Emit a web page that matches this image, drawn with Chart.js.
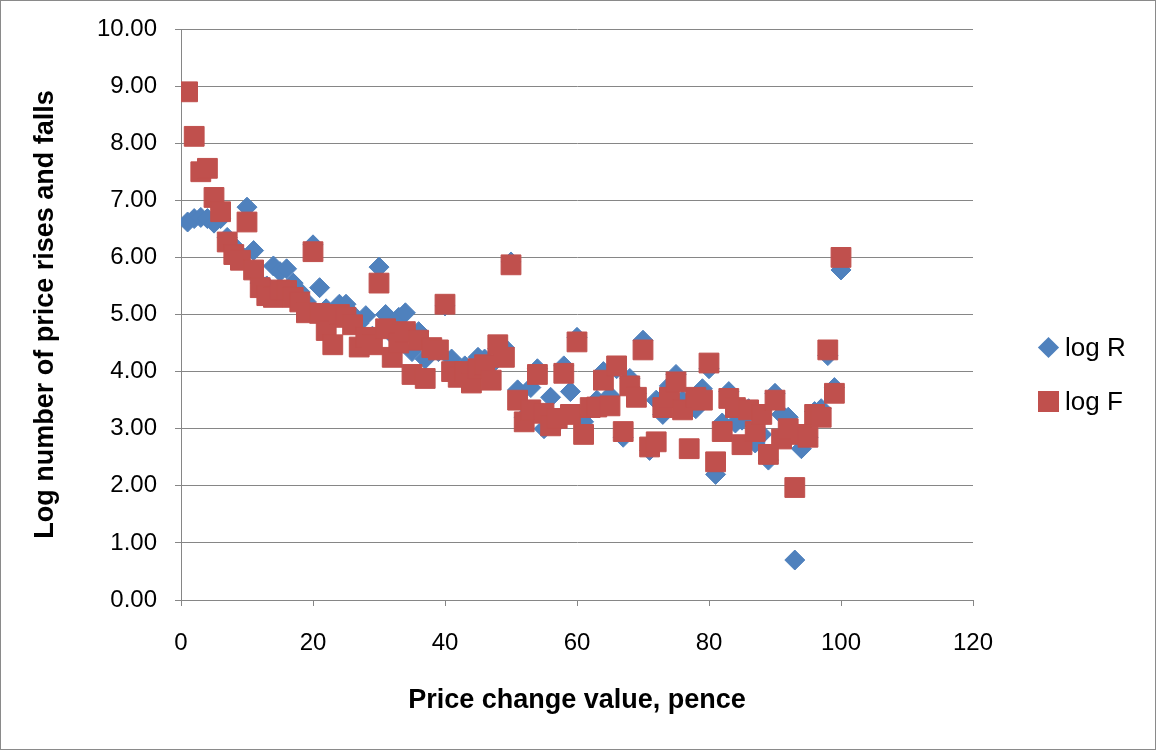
<!DOCTYPE html>
<html>
<head>
<meta charset="utf-8">
<title>Log number of price rises and falls</title>
<script src="https://cdn.jsdelivr.net/npm/chart.js@4.4.1/dist/chart.umd.min.js"></script>
<style>
  body { margin: 0; background: #fff; font-family: "Liberation Sans", Arial, sans-serif; }
  #wrap { position: absolute; left: 0; top: 0; width: 1154px; height: 748px; border: 1px solid #8a8a8a; }
  #chart { position: absolute; left: 0; top: 0; }
  .mark { position: absolute; }
  .diamond { left: 1039.5px; top: 339px; width: 15px; height: 15px; background: #4f81bd; transform: rotate(45deg); }
  .square { left: 1036.5px; top: 390px; width: 21px; height: 21px; background: #c0504d; }
  .label { position: absolute; left: 1064px; font-size: 26px; line-height: 30px; color: #000; white-space: nowrap; }
</style>
</head>
<body>
<div id="wrap">
  <canvas id="chart" width="1154" height="748"></canvas>
  <div class="mark diamond"></div>
  <div class="label" style="top: 331px;">log R</div>
  <div class="mark square"></div>
  <div class="label" style="top: 385px;">log F</div>
</div>
<script>
// price change, pence
const priceChange = [
  1, 2, 3, 4, 5, 6, 7, 8, 9, 10,
  11, 12, 13, 14, 15, 16, 17, 18, 19, 20,
  21, 22, 23, 24, 25, 26, 27, 28, 29, 30,
  31, 32, 33, 34, 35, 36, 37, 38, 39, 40,
  41, 42, 43, 44, 45, 46, 47, 48, 49, 50,
  51, 52, 53, 54, 55, 56, 57, 58, 59, 60,
  61, 62, 63, 64, 65, 66, 67, 68, 69, 70,
  71, 72, 73, 74, 75, 76, 77, 78, 79, 80,
  81, 82, 83, 84, 85, 86, 87, 88, 89, 90,
  91, 92, 93, 94, 95, 96, 97, 98, 99, 100
];

// log number of rises
const logR = [
  6.62, 6.68, 6.70, 6.68, 6.60, 6.68, 6.35, 6.20, 6.05, 6.88,
  6.12, 5.55, 5.50, 5.85, 5.75, 5.80, 5.55, 5.40, 5.22, 6.22,
  5.47, 5.10, 5.00, 5.18, 5.18, 5.00, 4.85, 4.98, 4.62, 5.83,
  5.00, 4.65, 4.95, 5.03, 4.35, 4.70, 4.22, 4.40, 4.35, 5.15,
  4.22, 3.95, 4.10, 3.95, 4.25, 4.22, 4.12, 4.40, 4.42, 5.92,
  3.68, 3.20, 3.72, 4.05, 3.00, 3.55, 3.10, 4.10, 3.65, 4.60,
  3.12, 3.35, 3.50, 4.00, 3.58, 4.05, 2.85, 3.88, 3.62, 4.55,
  2.62, 3.50, 3.25, 3.75, 3.95, 3.50, 3.40, 3.35, 3.70, 4.05,
  2.20, 3.10, 3.65, 3.10, 3.15, 3.35, 2.75, 2.90, 2.45, 3.62,
  3.25, 3.20, 0.70, 2.65, 2.85, 3.30, 3.35, 4.28, 3.72, 5.78
];

// log number of falls
const logF = [
  8.90, 8.12, 7.50, 7.56, 7.05, 6.80, 6.27, 6.05, 5.95, 6.62,
  5.78, 5.47, 5.33, 5.30, 5.43, 5.42, 5.30, 5.22, 5.03, 6.10,
  5.02, 4.72, 4.47, 5.00, 4.95, 4.82, 4.43, 4.60, 4.47, 5.55,
  4.75, 4.25, 4.50, 4.70, 3.95, 4.55, 3.88, 4.42, 4.38, 5.18,
  4.00, 3.90, 4.00, 3.80, 4.05, 4.12, 3.85, 4.47, 4.25, 5.87,
  3.50, 3.12, 3.33, 3.95, 3.27, 3.05, 3.18, 3.97, 3.25, 4.52,
  2.90, 3.37, 3.38, 3.85, 3.40, 4.10, 2.95, 3.75, 3.55, 4.38,
  2.68, 2.77, 3.37, 3.55, 3.82, 3.33, 2.65, 3.55, 3.50, 4.15,
  2.42, 2.95, 3.53, 3.37, 2.72, 3.33, 2.95, 3.25, 2.55, 3.50,
  2.82, 3.00, 1.97, 2.90, 2.85, 3.25, 3.20, 4.38, 3.62, 6.00
];

const fontFamily = '"Liberation Sans", Arial, sans-serif';
const axisGrey = '#868686';

const toPoints = (ys) => priceChange.map((x, i) => ({ x: x, y: ys[i] }));

const ctx = document.getElementById('chart').getContext('2d');
new Chart(ctx, {
  type: 'scatter',
  data: {
    datasets: [
      {
        label: 'log R',
        data: toPoints(logR),
        pointStyle: 'rectRot',
        pointRadius: 10,
        backgroundColor: '#4f81bd',
        borderColor: '#4f81bd',
        borderWidth: 1,
        order: 2
      },
      {
        label: 'log F',
        data: toPoints(logF),
        pointStyle: 'rect',
        pointRadius: 14,
        backgroundColor: '#c0504d',
        borderColor: '#c0504d',
        borderWidth: 1,
        order: 1
      }
    ]
  },
  options: {
    responsive: false,
    animation: false,
    events: [],
    layout: { padding: { top: 28, right: 182, bottom: 0, left: 0 } },
    plugins: {
      legend: { display: false },
      tooltip: { enabled: false }
    },
    scales: {
      x: {
        type: 'linear',
        min: 0,
        max: 120,
        ticks: { stepSize: 20, color: '#000', padding: 23, font: { family: fontFamily, size: 24 } },
        grid: { drawOnChartArea: false, drawTicks: true, tickLength: 6, color: axisGrey },
        border: { color: axisGrey },
        title: {
          display: true,
          text: 'Price change value, pence',
          color: '#000',
          font: { family: fontFamily, size: 27, weight: 'bold' },
          padding: { top: 0, bottom: 32 }
        },
        afterFit: (scale) => { scale.height = 149; }
      },
      y: {
        min: 0,
        max: 10,
        ticks: {
          stepSize: 1,
          color: '#000',
          padding: 18,
          font: { family: fontFamily, size: 24 },
          callback: (v) => v.toFixed(2)
        },
        grid: { color: axisGrey, tickLength: 6 },
        border: { color: axisGrey },
        title: {
          display: true,
          text: 'Log number of price rises and falls',
          color: '#000',
          font: { family: fontFamily, size: 27, weight: 'bold' },
          padding: { top: 28, bottom: 0 }
        },
        afterFit: (scale) => {
          scale.width = 180;
          scale.paddingTop = 0;
          scale.paddingBottom = 0;
        }
      }
    }
  }
});
</script>
</body>
</html>
